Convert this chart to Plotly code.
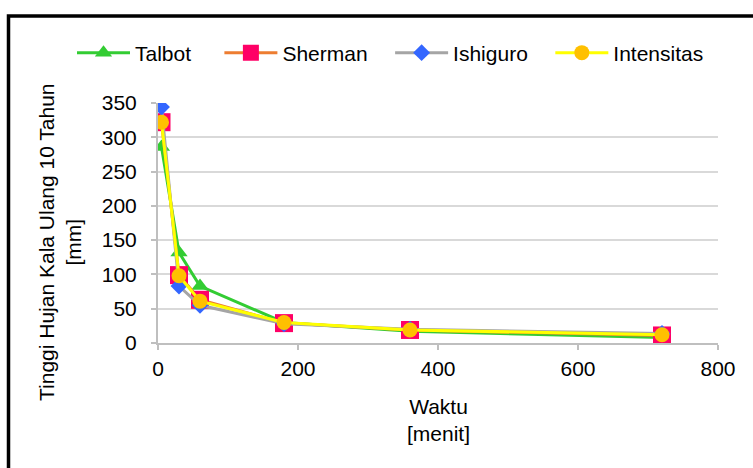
import plotly.graph_objects as go

# Durasi hujan (menit)
waktu = [5, 30, 60, 180, 360, 720]

# Tinggi hujan kala ulang 10 tahun (mm) per metode
talbot = [286, 132, 83, 30, 17, 8]
sherman = [322, 99, 63, 29, 19, 11]
ishiguro = [344, 83, 55, 28, 20, 14]
intensitas = [322, 98, 61, 30, 19, 12]

x_ticks = [0, 200, 400, 600, 800]
y_ticks = [0, 50, 100, 150, 200, 250, 300, 350]

FONT = "Liberation Sans, Arial, sans-serif"
FS = 21
NB = "\u00a0"  # spacing between legend entries

W, H = 753, 468
L, R, T, B = 158, 35, 103, 125
PW, PH = W - L - R, H - T - B

series = [
    ("Talbot", talbot, "#33CC33", "triangle-up", "#33CC33", 15, 4),
    ("Sherman", sherman, "#ED7D31", "square", "#FF0066", 18, 3),
    ("Ishiguro", ishiguro, "#A5A5A5", "diamond", "#3366FF", 13, 3),
    ("Intensitas", intensitas, "#FFFF00", "circle", "#FFC000", 15, 0),
]

fig = go.Figure()
for name, vals, lc, sym, mc, ms, pad in series:
    fig.add_trace(go.Scatter(
        x=waktu, y=vals, name=name + NB * pad, mode="lines+markers",
        line=dict(color=lc, width=3),
        marker=dict(symbol=sym, color=mc, size=ms, line=dict(width=0)),
    ))


def px_x(px):
    return (px - L) / PW


def px_y(py):
    return (H - B - py) / PH


axis_common = dict(
    showline=True, linecolor="#BFBFBF", linewidth=2,
    ticks="outside", tickcolor="#BFBFBF", ticklen=5, tickwidth=1.5,
    tickfont=dict(family=FONT, size=FS, color="#000000"),
    zeroline=False,
)

fig.update_layout(
    width=W, height=H,
    margin=dict(l=L, r=R, t=T, b=B),
    paper_bgcolor="white", plot_bgcolor="white",
    font=dict(family=FONT, color="#000000"),
    xaxis=dict(range=[0, 800], tickvals=x_ticks, showgrid=False,
               ticklabelstandoff=1, **axis_common),
    yaxis=dict(range=[0, 350], tickvals=y_ticks, showgrid=True,
               gridcolor="#D9D9D9", gridwidth=1.5, ticklabelstandoff=10,
               **axis_common),
    legend=dict(
        orientation="h", x=px_x(72), y=px_y(53), xanchor="left", yanchor="middle",
        font=dict(family=FONT, size=FS, color="#000000"),
        itemwidth=53, tracegroupgap=0, bgcolor="rgba(0,0,0,0)",
    ),
    showlegend=True,
    annotations=[
        dict(text="Tinggi Hujan Kala Ulang 10 Tahun<br>[mm]", xref="paper", yref="paper",
             x=px_x(60), y=px_y(242), xanchor="center", yanchor="middle",
             textangle=-90, showarrow=False,
             font=dict(family=FONT, size=FS, color="#000000"), align="center"),
        dict(text="Waktu<br>[menit]", xref="paper", yref="paper",
             x=px_x(438), y=px_y(420), xanchor="center", yanchor="middle",
             showarrow=False,
             font=dict(family=FONT, size=FS, color="#000000"), align="center"),
    ],
    shapes=[
        dict(type="rect", xref="paper", yref="paper",
             x0=px_x(8.5), x1=px_x(800), y0=px_y(520), y1=px_y(16),
             line=dict(color="#000000", width=3.5), fillcolor="rgba(0,0,0,0)",
             layer="above"),
    ],
)

fig.write_html("out.html")
